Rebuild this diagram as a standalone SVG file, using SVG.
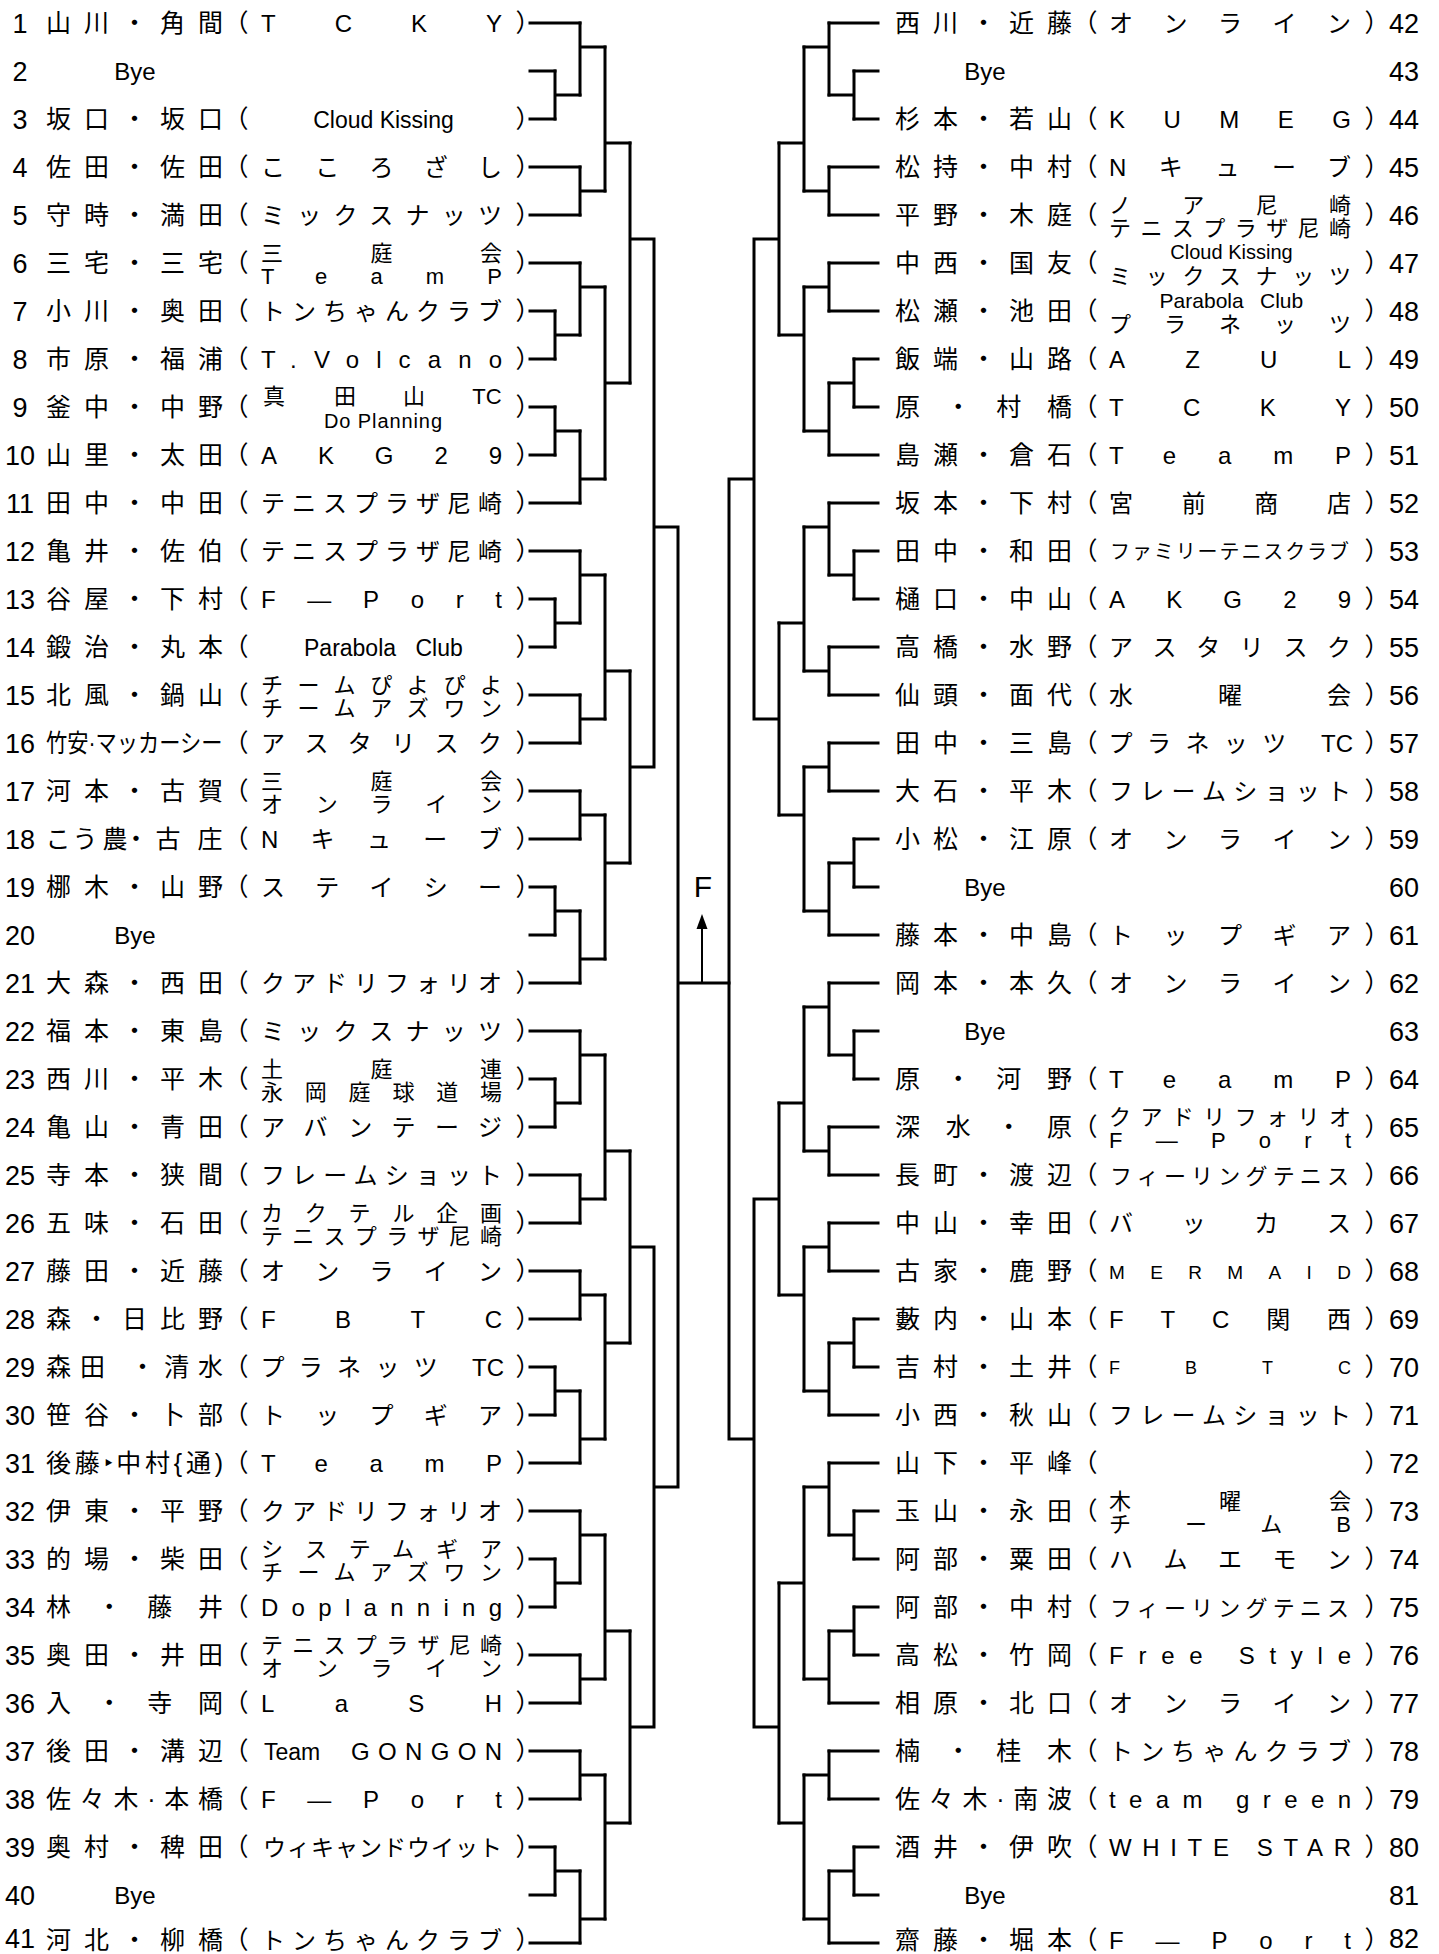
<svg xmlns="http://www.w3.org/2000/svg" width="1439" height="1954" viewBox="0 0 1439 1954">
<style>
text{font-family:"Liberation Sans","Noto Sans CJK JP",sans-serif;fill:#000}
.num{font-family:"Liberation Sans Narrow","Liberation Sans",sans-serif;font-size:27px;text-anchor:middle}
.nm{font-size:25px}
.nmx{font-size:25px;text-anchor:middle}
.pr{font-size:25px;text-anchor:middle}
.og{font-size:24px}
.ogx{font-size:24px;text-anchor:middle}
.o2{font-size:22px}
.mid{text-anchor:middle}
.bye{font-size:24px;text-anchor:middle}
.ln{fill:none;stroke:#000;stroke-width:3;stroke-linecap:square}
</style>
<rect width="1439" height="1954" fill="#fff"/>
<g id="connectors">
<path class="ln" d="M530 23H580M530 71H555M530 119H555M530 167H580M530 215H580M530 263H580M530 311H555M530 359H555M530 407H555M530 455H555M530 503H580M530 551H580M530 599H555M530 647H555M530 695H580M530 743H580M530 791H580M530 839H580M530 887H555M530 935H555M530 983H580M530 1031H580M530 1079H555M530 1127H555M530 1175H580M530 1223H580M530 1271H580M530 1319H580M530 1367H555M530 1415H555M530 1463H580M530 1511H580M530 1559H555M530 1607H555M530 1655H580M530 1703H580M530 1751H580M530 1799H580M530 1847H555M530 1895H555M530 1943H580"/>
<path class="ln" d="M555 71V119M555 95H580M555 311V359M555 335H580M555 407V455M555 431H580M555 599V647M555 623H580M555 887V935M555 911H580M555 1079V1127M555 1103H580M555 1367V1415M555 1391H580M555 1559V1607M555 1583H580M555 1847V1895M555 1871H580"/>
<path class="ln" d="M580 23V95M580 47H605M580 167V215M580 191H605M580 263V335M580 287H605M580 431V503M580 479H605M580 551V623M580 575H605M580 695V743M580 719H605M580 791V839M580 815H605M580 911V983M580 959H605M580 1031V1103M580 1055H605M580 1175V1223M580 1199H605M580 1271V1319M580 1295H605M580 1391V1463M580 1439H605M580 1511V1583M580 1535H605M580 1655V1703M580 1679H605M580 1751V1799M580 1775H605M580 1871V1943M580 1919H605"/>
<path class="ln" d="M605 47V191M605 143H630M605 287V479M605 383H630M605 575V719M605 671H630M605 815V959M605 863H630M605 1055V1199M605 1151H630M605 1295V1439M605 1343H630M605 1535V1679M605 1631H630M605 1775V1919M605 1823H630"/>
<path class="ln" d="M630 143V383M630 239H654M630 671V863M630 767H654M630 1151V1343M630 1247H654M630 1631V1823M630 1727H654M654 239V767M654 527H678M654 1247V1727M654 1487H678M678 527V1487M678 983H729"/>
<path class="ln" d="M878 23H829M878 71H854M878 119H854M878 167H829M878 215H829M878 263H829M878 311H829M878 359H854M878 407H854M878 455H829M878 503H829M878 551H854M878 599H854M878 647H829M878 695H829M878 743H829M878 791H829M878 839H854M878 887H854M878 935H829M878 983H829M878 1031H854M878 1079H854M878 1127H829M878 1175H829M878 1223H829M878 1271H829M878 1319H854M878 1367H854M878 1415H829M878 1463H829M878 1511H854M878 1559H854M878 1607H854M878 1655H854M878 1703H829M878 1751H829M878 1799H829M878 1847H854M878 1895H854M878 1943H829"/>
<path class="ln" d="M854 71V119M854 95H829M854 359V407M854 383H829M854 551V599M854 575H829M854 839V887M854 863H829M854 1031V1079M854 1055H829M854 1319V1367M854 1343H829M854 1511V1559M854 1535H829M854 1607V1655M854 1631H829M854 1847V1895M854 1871H829"/>
<path class="ln" d="M829 23V95M829 47H804M829 167V215M829 191H804M829 263V311M829 287H804M829 383V455M829 431H804M829 503V575M829 527H804M829 647V695M829 671H804M829 743V791M829 767H804M829 863V935M829 911H804M829 983V1055M829 1007H804M829 1127V1175M829 1151H804M829 1223V1271M829 1247H804M829 1343V1415M829 1391H804M829 1463V1535M829 1487H804M829 1631V1703M829 1679H804M829 1751V1799M829 1775H804M829 1871V1943M829 1919H804"/>
<path class="ln" d="M804 47V191M804 143H779M804 287V431M804 335H779M804 527V671M804 623H779M804 767V911M804 815H779M804 1007V1151M804 1103H779M804 1247V1391M804 1295H779M804 1487V1679M804 1583H779M804 1775V1919M804 1823H779"/>
<path class="ln" d="M779 143V335M779 239H754M779 623V815M779 719H754M779 1103V1295M779 1199H754M779 1583V1823M779 1727H754M754 239V719M754 479H729M754 1199V1727M754 1439H729M729 479V1439"/>
<path d="M702 982V927" fill="none" stroke="#000" stroke-width="2"/>
<polygon points="702,914 696.5,929 707.5,929" fill="#000"/>
</g>
<g id="final"><text x="703" y="897" style="font-size:30px;text-anchor:middle">F</text></g>

<g id="p1" transform="translate(0,23)"><text class="num" x="20" y="9.5">1</text><text class="nm" x="46" y="9" textLength="177">山川・角間</text><text class="pr" x="236" y="9">（</text><text class="pr" x="528" y="9">）</text><text class="og" x="261" y="9" textLength="241">TCKY</text></g>
<g id="p2" transform="translate(0,71)"><text class="num" x="20" y="9.5">2</text><text class="bye" x="135" y="9">Bye</text></g>
<g id="p3" transform="translate(0,119)"><text class="num" x="20" y="9.5">3</text><text class="nm" x="46" y="9" textLength="177">坂口・坂口</text><text class="pr" x="236" y="9">（</text><text class="pr" x="528" y="9">）</text><text class="ogx" x="383.5" y="9" style="font-size:23px">Cloud Kissing</text></g>
<g id="p4" transform="translate(0,167)"><text class="num" x="20" y="9.5">4</text><text class="nm" x="46" y="9" textLength="177">佐田・佐田</text><text class="pr" x="236" y="9">（</text><text class="pr" x="528" y="9">）</text><text class="og" x="261" y="9" textLength="241">こころざし</text></g>
<g id="p5" transform="translate(0,215)"><text class="num" x="20" y="9.5">5</text><text class="nm" x="46" y="9" textLength="177">守時・満田</text><text class="pr" x="236" y="9">（</text><text class="pr" x="528" y="9">）</text><text class="og" x="261" y="9" textLength="241">ミックスナッツ</text></g>
<g id="p6" transform="translate(0,263)"><text class="num" x="20" y="9.5">6</text><text class="nm" x="46" y="9" textLength="177">三宅・三宅</text><text class="pr" x="236" y="9">（</text><text class="pr" x="528" y="9">）</text><text class="o2"><tspan x="261" y="-2" textLength="241">三庭会</tspan><tspan x="261" y="21" textLength="241">TeamP</tspan></text></g>
<g id="p7" transform="translate(0,311)"><text class="num" x="20" y="9.5">7</text><text class="nm" x="46" y="9" textLength="177">小川・奥田</text><text class="pr" x="236" y="9">（</text><text class="pr" x="528" y="9">）</text><text class="og" x="261" y="9" textLength="241">トンちゃんクラブ</text></g>
<g id="p8" transform="translate(0,359)"><text class="num" x="20" y="9.5">8</text><text class="nm" x="46" y="9" textLength="177">市原・福浦</text><text class="pr" x="236" y="9">（</text><text class="pr" x="528" y="9">）</text><text class="og" x="261" y="9" textLength="241">T.Volcano</text></g>
<g id="p9" transform="translate(0,407)"><text class="num" x="20" y="9.5">9</text><text class="nm" x="46" y="9" textLength="177">釜中・中野</text><text class="pr" x="236" y="9">（</text><text class="pr" x="528" y="9">）</text><text class="o2"><tspan class="mid" x="274 345 414 487" y="-3">真田山TC</tspan><tspan x="324" y="21" textLength="118" style="font-size:20px">Do Planning</tspan></text></g>
<g id="p10" transform="translate(0,455)"><text class="num" x="20" y="9.5">10</text><text class="nm" x="46" y="9" textLength="177">山里・太田</text><text class="pr" x="236" y="9">（</text><text class="pr" x="528" y="9">）</text><text class="og" x="261" y="9" textLength="241">AKG29</text></g>
<g id="p11" transform="translate(0,503)"><text class="num" x="20" y="9.5">11</text><text class="nm" x="46" y="9" textLength="177">田中・中田</text><text class="pr" x="236" y="9">（</text><text class="pr" x="528" y="9">）</text><text class="og" x="261" y="9" textLength="241">テニスプラザ尼崎</text></g>
<g id="p12" transform="translate(0,551)"><text class="num" x="20" y="9.5">12</text><text class="nm" x="46" y="9" textLength="177">亀井・佐伯</text><text class="pr" x="236" y="9">（</text><text class="pr" x="528" y="9">）</text><text class="og" x="261" y="9" textLength="241">テニスプラザ尼崎</text></g>
<g id="p13" transform="translate(0,599)"><text class="num" x="20" y="9.5">13</text><text class="nm" x="46" y="9" textLength="177">谷屋・下村</text><text class="pr" x="236" y="9">（</text><text class="pr" x="528" y="9">）</text><text class="og" x="261" y="9" textLength="241">F—Port</text></g>
<g id="p14" transform="translate(0,647)"><text class="num" x="20" y="9.5">14</text><text class="nm" x="46" y="9" textLength="177">鍛治・丸本</text><text class="pr" x="236" y="9">（</text><text class="pr" x="528" y="9">）</text><text class="og" y="9" style="font-size:23px"><tspan x="304">Parabola</tspan><tspan x="415.5">Club</tspan></text></g>
<g id="p15" transform="translate(0,695)"><text class="num" x="20" y="9.5">15</text><text class="nm" x="46" y="9" textLength="177">北風・鍋山</text><text class="pr" x="236" y="9">（</text><text class="pr" x="528" y="9">）</text><text class="o2"><tspan x="261" y="-2" textLength="241">チームぴよぴよ</tspan><tspan x="261" y="21" textLength="241">チームアズワン</tspan></text></g>
<g id="p16" transform="translate(0,743)"><text class="num" x="20" y="9.5">16</text><text class="nm" transform="translate(46 9) scale(0.85 1)">竹安·マッカーシー</text><text class="pr" x="236" y="9">（</text><text class="pr" x="528" y="9">）</text><text class="og" x="261" y="9" textLength="241">アスタリスク</text></g>
<g id="p17" transform="translate(0,791)"><text class="num" x="20" y="9.5">17</text><text class="nm" x="46" y="9" textLength="177">河本・古賀</text><text class="pr" x="236" y="9">（</text><text class="pr" x="528" y="9">）</text><text class="o2"><tspan x="261" y="-2" textLength="241">三庭会</tspan><tspan x="261" y="21" textLength="241">オンライン</tspan></text></g>
<g id="p18" transform="translate(0,839)"><text class="num" x="20" y="9.5">18</text><text class="nmx" x="58 85 115 136 168 210" y="9">こう農・古庄</text><text class="pr" x="236" y="9">（</text><text class="pr" x="528" y="9">）</text><text class="og" x="261" y="9" textLength="241">Nキューブ</text></g>
<g id="p19" transform="translate(0,887)"><text class="num" x="20" y="9.5">19</text><text class="nm" x="46" y="9" textLength="177">梛木・山野</text><text class="pr" x="236" y="9">（</text><text class="pr" x="528" y="9">）</text><text class="og" x="261" y="9" textLength="241">ステイシー</text></g>
<g id="p20" transform="translate(0,935)"><text class="num" x="20" y="9.5">20</text><text class="bye" x="135" y="9">Bye</text></g>
<g id="p21" transform="translate(0,983)"><text class="num" x="20" y="9.5">21</text><text class="nm" x="46" y="9" textLength="177">大森・西田</text><text class="pr" x="236" y="9">（</text><text class="pr" x="528" y="9">）</text><text class="og" x="261" y="9" textLength="241">クアドリフォリオ</text></g>
<g id="p22" transform="translate(0,1031)"><text class="num" x="20" y="9.5">22</text><text class="nm" x="46" y="9" textLength="177">福本・東島</text><text class="pr" x="236" y="9">（</text><text class="pr" x="528" y="9">）</text><text class="og" x="261" y="9" textLength="241">ミックスナッツ</text></g>
<g id="p23" transform="translate(0,1079)"><text class="num" x="20" y="9.5">23</text><text class="nm" x="46" y="9" textLength="177">西川・平木</text><text class="pr" x="236" y="9">（</text><text class="pr" x="528" y="9">）</text><text class="o2"><tspan x="261" y="-2" textLength="241">土庭連</tspan><tspan x="261" y="21" textLength="241">永岡庭球道場</tspan></text></g>
<g id="p24" transform="translate(0,1127)"><text class="num" x="20" y="9.5">24</text><text class="nm" x="46" y="9" textLength="177">亀山・青田</text><text class="pr" x="236" y="9">（</text><text class="pr" x="528" y="9">）</text><text class="og" x="261" y="9" textLength="241">アバンテージ</text></g>
<g id="p25" transform="translate(0,1175)"><text class="num" x="20" y="9.5">25</text><text class="nm" x="46" y="9" textLength="177">寺本・狭間</text><text class="pr" x="236" y="9">（</text><text class="pr" x="528" y="9">）</text><text class="og" x="261" y="9" textLength="241">フレームショット</text></g>
<g id="p26" transform="translate(0,1223)"><text class="num" x="20" y="9.5">26</text><text class="nm" x="46" y="9" textLength="177">五味・石田</text><text class="pr" x="236" y="9">（</text><text class="pr" x="528" y="9">）</text><text class="o2"><tspan x="261" y="-2" textLength="241">カクテル企画</tspan><tspan x="261" y="21" textLength="241">テニスプラザ尼崎</tspan></text></g>
<g id="p27" transform="translate(0,1271)"><text class="num" x="20" y="9.5">27</text><text class="nm" x="46" y="9" textLength="177">藤田・近藤</text><text class="pr" x="236" y="9">（</text><text class="pr" x="528" y="9">）</text><text class="og" x="261" y="9" textLength="241">オンライン</text></g>
<g id="p28" transform="translate(0,1319)"><text class="num" x="20" y="9.5">28</text><text class="nm" x="46" y="9" textLength="177">森・日比野</text><text class="pr" x="236" y="9">（</text><text class="pr" x="528" y="9">）</text><text class="og" x="261" y="9" textLength="241">FBTC</text></g>
<g id="p29" transform="translate(0,1367)"><text class="num" x="20" y="9.5">29</text><text class="nm" x="46" y="9" textLength="177">森田 ・清水</text><text class="pr" x="236" y="9">（</text><text class="pr" x="528" y="9">）</text><text class="ogx" x="272.5 310.8 349.1 387.4 425.7 488" y="9">プラネッツTC</text></g>
<g id="p30" transform="translate(0,1415)"><text class="num" x="20" y="9.5">30</text><text class="nm" x="46" y="9" textLength="177">笹谷・卜部</text><text class="pr" x="236" y="9">（</text><text class="pr" x="528" y="9">）</text><text class="og" x="261" y="9" textLength="241">トップギア</text></g>
<g id="p31" transform="translate(0,1463)"><text class="num" x="20" y="9.5">31</text><text class="nm" x="46" y="9" textLength="177">後藤‣中村{通)</text><text class="pr" x="236" y="9">（</text><text class="pr" x="528" y="9">）</text><text class="og" x="261" y="9" textLength="241">TeamP</text></g>
<g id="p32" transform="translate(0,1511)"><text class="num" x="20" y="9.5">32</text><text class="nm" x="46" y="9" textLength="177">伊東・平野</text><text class="pr" x="236" y="9">（</text><text class="pr" x="528" y="9">）</text><text class="og" x="261" y="9" textLength="241">クアドリフォリオ</text></g>
<g id="p33" transform="translate(0,1559)"><text class="num" x="20" y="9.5">33</text><text class="nm" x="46" y="9" textLength="177">的場・柴田</text><text class="pr" x="236" y="9">（</text><text class="pr" x="528" y="9">）</text><text class="o2"><tspan x="261" y="-2" textLength="241">システムギア</tspan><tspan x="261" y="21" textLength="241">チームアズワン</tspan></text></g>
<g id="p34" transform="translate(0,1607)"><text class="num" x="20" y="9.5">34</text><text class="nm" x="46" y="9" textLength="177">林・藤井</text><text class="pr" x="236" y="9">（</text><text class="pr" x="528" y="9">）</text><text class="og" x="261" y="9" textLength="241">Doplanning</text></g>
<g id="p35" transform="translate(0,1655)"><text class="num" x="20" y="9.5">35</text><text class="nm" x="46" y="9" textLength="177">奥田・井田</text><text class="pr" x="236" y="9">（</text><text class="pr" x="528" y="9">）</text><text class="o2"><tspan x="261" y="-2" textLength="241">テニスプラザ尼崎</tspan><tspan x="261" y="21" textLength="241">オンライン</tspan></text></g>
<g id="p36" transform="translate(0,1703)"><text class="num" x="20" y="9.5">36</text><text class="nm" x="46" y="9" textLength="177">入・寺岡</text><text class="pr" x="236" y="9">（</text><text class="pr" x="528" y="9">）</text><text class="og" x="261" y="9" textLength="241">LaSH</text></g>
<g id="p37" transform="translate(0,1751)"><text class="num" x="20" y="9.5">37</text><text class="nm" x="46" y="9" textLength="177">後田・溝辺</text><text class="pr" x="236" y="9">（</text><text class="pr" x="528" y="9">）</text><text class="og" y="9"><tspan x="264" style="font-size:23px">Team</tspan><tspan x="351" textLength="151">GONGON</tspan></text></g>
<g id="p38" transform="translate(0,1799)"><text class="num" x="20" y="9.5">38</text><text class="nm" x="46" y="9" textLength="177">佐々木·本橋</text><text class="pr" x="236" y="9">（</text><text class="pr" x="528" y="9">）</text><text class="og" x="261" y="9" textLength="241">F—Port</text></g>
<g id="p39" transform="translate(0,1847)"><text class="num" x="20" y="9.5">39</text><text class="nm" x="46" y="9" textLength="177">奥村・稗田</text><text class="pr" x="236" y="9">（</text><text class="pr" x="528" y="9">）</text><text class="og" x="263" y="9" textLength="239" style="font-size:23px">ウィキャンドウイット</text></g>
<g id="p40" transform="translate(0,1895)"><text class="num" x="20" y="9.5">40</text><text class="bye" x="135" y="9">Bye</text></g>
<g id="p41" transform="translate(0,1940)"><text class="num" x="20" y="8">41</text><text class="nm" x="46" y="8.5" textLength="177">河北・柳橋</text><text class="pr" x="236" y="8.5">（</text><text class="pr" x="528" y="8.5">）</text><text class="og" x="261" y="8.5" textLength="241">トンちゃんクラブ</text></g>

<g id="p42" transform="translate(0,23)"><text class="nm" x="895" y="9" textLength="177">西川・近藤</text><text class="pr" x="1085" y="9">（</text><text class="pr" x="1377" y="9">）</text><text class="og" x="1109" y="9" textLength="242">オンライン</text><text class="num" x="1404" y="9.5">42</text></g>
<g id="p43" transform="translate(0,71)"><text class="bye" x="985" y="9">Bye</text><text class="num" x="1404" y="9.5">43</text></g>
<g id="p44" transform="translate(0,119)"><text class="nm" x="895" y="9" textLength="177">杉本・若山</text><text class="pr" x="1085" y="9">（</text><text class="pr" x="1377" y="9">）</text><text class="og" x="1109" y="9" textLength="242">KUMEG</text><text class="num" x="1404" y="9.5">44</text></g>
<g id="p45" transform="translate(0,167)"><text class="nm" x="895" y="9" textLength="177">松持・中村</text><text class="pr" x="1085" y="9">（</text><text class="pr" x="1377" y="9">）</text><text class="og" x="1109" y="9" textLength="242">Nキューブ</text><text class="num" x="1404" y="9.5">45</text></g>
<g id="p46" transform="translate(0,215)"><text class="nm" x="895" y="9" textLength="177">平野・木庭</text><text class="pr" x="1085" y="9">（</text><text class="pr" x="1377" y="9">）</text><text class="o2"><tspan x="1109" y="-2" textLength="242">ノア尼崎</tspan><tspan x="1109" y="21" textLength="242">テニスプラザ尼崎</tspan></text><text class="num" x="1404" y="9.5">46</text></g>
<g id="p47" transform="translate(0,263)"><text class="nm" x="895" y="9" textLength="177">中西・国友</text><text class="pr" x="1085" y="9">（</text><text class="pr" x="1377" y="9">）</text><text class="o2"><tspan class="mid" x="1231.5" y="-4" style="font-size:20px">Cloud Kissing</tspan><tspan x="1109" y="21" textLength="242">ミックスナッツ</tspan></text><text class="num" x="1404" y="9.5">47</text></g>
<g id="p48" transform="translate(0,311)"><text class="nm" x="895" y="9" textLength="177">松瀬・池田</text><text class="pr" x="1085" y="9">（</text><text class="pr" x="1377" y="9">）</text><text class="o2"><tspan x="1159.6" y="-3" style="font-size:21px">Parabola</tspan><tspan x="1260" y="-3" style="font-size:21px">Club</tspan><tspan x="1109" y="21" textLength="242">プラネッツ</tspan></text><text class="num" x="1404" y="9.5">48</text></g>
<g id="p49" transform="translate(0,359)"><text class="nm" x="895" y="9" textLength="177">飯端・山路</text><text class="pr" x="1085" y="9">（</text><text class="pr" x="1377" y="9">）</text><text class="og" x="1109" y="9" textLength="242">AZUL</text><text class="num" x="1404" y="9.5">49</text></g>
<g id="p50" transform="translate(0,407)"><text class="nm" x="895" y="9" textLength="177">原・村橋</text><text class="pr" x="1085" y="9">（</text><text class="pr" x="1377" y="9">）</text><text class="og" x="1109" y="9" textLength="242">TCKY</text><text class="num" x="1404" y="9.5">50</text></g>
<g id="p51" transform="translate(0,455)"><text class="nm" x="895" y="9" textLength="177">島瀬・倉石</text><text class="pr" x="1085" y="9">（</text><text class="pr" x="1377" y="9">）</text><text class="og" x="1109" y="9" textLength="242">TeamP</text><text class="num" x="1404" y="9.5">51</text></g>
<g id="p52" transform="translate(0,503)"><text class="nm" x="895" y="9" textLength="177">坂本・下村</text><text class="pr" x="1085" y="9">（</text><text class="pr" x="1377" y="9">）</text><text class="og" x="1109" y="9" textLength="242">宮前商店</text><text class="num" x="1404" y="9.5">52</text></g>
<g id="p53" transform="translate(0,551)"><text class="nm" x="895" y="9" textLength="177">田中・和田</text><text class="pr" x="1085" y="9">（</text><text class="pr" x="1377" y="9">）</text><text class="og" x="1110" y="8" textLength="239" style="font-size:20px">ファミリーテニスクラブ</text><text class="num" x="1404" y="9.5">53</text></g>
<g id="p54" transform="translate(0,599)"><text class="nm" x="895" y="9" textLength="177">樋口・中山</text><text class="pr" x="1085" y="9">（</text><text class="pr" x="1377" y="9">）</text><text class="og" x="1109" y="9" textLength="242">AKG29</text><text class="num" x="1404" y="9.5">54</text></g>
<g id="p55" transform="translate(0,647)"><text class="nm" x="895" y="9" textLength="177">高橋・水野</text><text class="pr" x="1085" y="9">（</text><text class="pr" x="1377" y="9">）</text><text class="og" x="1109" y="9" textLength="242">アスタリスク</text><text class="num" x="1404" y="9.5">55</text></g>
<g id="p56" transform="translate(0,695)"><text class="nm" x="895" y="9" textLength="177">仙頭・面代</text><text class="pr" x="1085" y="9">（</text><text class="pr" x="1377" y="9">）</text><text class="og" x="1109" y="9" textLength="242">水曜会</text><text class="num" x="1404" y="9.5">56</text></g>
<g id="p57" transform="translate(0,743)"><text class="nm" x="895" y="9" textLength="177">田中・三島</text><text class="pr" x="1085" y="9">（</text><text class="pr" x="1377" y="9">）</text><text class="ogx" x="1120.5 1158.9 1197.4 1235.8 1274.2 1337" y="9">プラネッツTC</text><text class="num" x="1404" y="9.5">57</text></g>
<g id="p58" transform="translate(0,791)"><text class="nm" x="895" y="9" textLength="177">大石・平木</text><text class="pr" x="1085" y="9">（</text><text class="pr" x="1377" y="9">）</text><text class="og" x="1109" y="9" textLength="242">フレームショット</text><text class="num" x="1404" y="9.5">58</text></g>
<g id="p59" transform="translate(0,839)"><text class="nm" x="895" y="9" textLength="177">小松・江原</text><text class="pr" x="1085" y="9">（</text><text class="pr" x="1377" y="9">）</text><text class="og" x="1109" y="9" textLength="242">オンライン</text><text class="num" x="1404" y="9.5">59</text></g>
<g id="p60" transform="translate(0,887)"><text class="bye" x="985" y="9">Bye</text><text class="num" x="1404" y="9.5">60</text></g>
<g id="p61" transform="translate(0,935)"><text class="nm" x="895" y="9" textLength="177">藤本・中島</text><text class="pr" x="1085" y="9">（</text><text class="pr" x="1377" y="9">）</text><text class="og" x="1109" y="9" textLength="242">トップギア</text><text class="num" x="1404" y="9.5">61</text></g>
<g id="p62" transform="translate(0,983)"><text class="nm" x="895" y="9" textLength="177">岡本・本久</text><text class="pr" x="1085" y="9">（</text><text class="pr" x="1377" y="9">）</text><text class="og" x="1109" y="9" textLength="242">オンライン</text><text class="num" x="1404" y="9.5">62</text></g>
<g id="p63" transform="translate(0,1031)"><text class="bye" x="985" y="9">Bye</text><text class="num" x="1404" y="9.5">63</text></g>
<g id="p64" transform="translate(0,1079)"><text class="nm" x="895" y="9" textLength="177">原・河野</text><text class="pr" x="1085" y="9">（</text><text class="pr" x="1377" y="9">）</text><text class="og" x="1109" y="9" textLength="242">TeamP</text><text class="num" x="1404" y="9.5">64</text></g>
<g id="p65" transform="translate(0,1127)"><text class="nm" x="895" y="9" textLength="177">深水・原</text><text class="pr" x="1085" y="9">（</text><text class="pr" x="1377" y="9">）</text><text class="o2"><tspan x="1109" y="-2" textLength="242">クアドリフォリオ</tspan><tspan x="1109" y="21" textLength="242">F—Port</tspan></text><text class="num" x="1404" y="9.5">65</text></g>
<g id="p66" transform="translate(0,1175)"><text class="nm" x="895" y="9" textLength="177">長町・渡辺</text><text class="pr" x="1085" y="9">（</text><text class="pr" x="1377" y="9">）</text><text class="og" x="1110" y="9" textLength="239" style="font-size:22px">フィーリングテニス</text><text class="num" x="1404" y="9.5">66</text></g>
<g id="p67" transform="translate(0,1223)"><text class="nm" x="895" y="9" textLength="177">中山・幸田</text><text class="pr" x="1085" y="9">（</text><text class="pr" x="1377" y="9">）</text><text class="og" x="1109" y="9" textLength="242">バッカス</text><text class="num" x="1404" y="9.5">67</text></g>
<g id="p68" transform="translate(0,1271)"><text class="nm" x="895" y="9" textLength="177">古家・鹿野</text><text class="pr" x="1085" y="9">（</text><text class="pr" x="1377" y="9">）</text><text class="og" x="1109" y="8" textLength="242" style="font-size:19px">MERMAID</text><text class="num" x="1404" y="9.5">68</text></g>
<g id="p69" transform="translate(0,1319)"><text class="nm" x="895" y="9" textLength="177">藪内・山本</text><text class="pr" x="1085" y="9">（</text><text class="pr" x="1377" y="9">）</text><text class="og" x="1109" y="9" textLength="242">FTC関西</text><text class="num" x="1404" y="9.5">69</text></g>
<g id="p70" transform="translate(0,1367)"><text class="nm" x="895" y="9" textLength="177">吉村・土井</text><text class="pr" x="1085" y="9">（</text><text class="pr" x="1377" y="9">）</text><text class="og" x="1109" y="7" textLength="242" style="font-size:18px">FBTC</text><text class="num" x="1404" y="9.5">70</text></g>
<g id="p71" transform="translate(0,1415)"><text class="nm" x="895" y="9" textLength="177">小西・秋山</text><text class="pr" x="1085" y="9">（</text><text class="pr" x="1377" y="9">）</text><text class="og" x="1109" y="9" textLength="242">フレームショット</text><text class="num" x="1404" y="9.5">71</text></g>
<g id="p72" transform="translate(0,1463)"><text class="nm" x="895" y="9" textLength="177">山下・平峰</text><text class="pr" x="1085" y="9">（</text><text class="pr" x="1377" y="9">）</text><text class="num" x="1404" y="9.5">72</text></g>
<g id="p73" transform="translate(0,1511)"><text class="nm" x="895" y="9" textLength="177">玉山・永田</text><text class="pr" x="1085" y="9">（</text><text class="pr" x="1377" y="9">）</text><text class="o2"><tspan x="1109" y="-2" textLength="242">木曜会</tspan><tspan x="1109" y="21" textLength="242">チームB</tspan></text><text class="num" x="1404" y="9.5">73</text></g>
<g id="p74" transform="translate(0,1559)"><text class="nm" x="895" y="9" textLength="177">阿部・粟田</text><text class="pr" x="1085" y="9">（</text><text class="pr" x="1377" y="9">）</text><text class="og" x="1109" y="9" textLength="242">ハムエモン</text><text class="num" x="1404" y="9.5">74</text></g>
<g id="p75" transform="translate(0,1607)"><text class="nm" x="895" y="9" textLength="177">阿部・中村</text><text class="pr" x="1085" y="9">（</text><text class="pr" x="1377" y="9">）</text><text class="og" x="1110" y="9" textLength="239" style="font-size:22px">フィーリングテニス</text><text class="num" x="1404" y="9.5">75</text></g>
<g id="p76" transform="translate(0,1655)"><text class="nm" x="895" y="9" textLength="177">高松・竹岡</text><text class="pr" x="1085" y="9">（</text><text class="pr" x="1377" y="9">）</text><text class="og" x="1109" y="9" textLength="242">Free Style</text><text class="num" x="1404" y="9.5">76</text></g>
<g id="p77" transform="translate(0,1703)"><text class="nm" x="895" y="9" textLength="177">相原・北口</text><text class="pr" x="1085" y="9">（</text><text class="pr" x="1377" y="9">）</text><text class="og" x="1109" y="9" textLength="242">オンライン</text><text class="num" x="1404" y="9.5">77</text></g>
<g id="p78" transform="translate(0,1751)"><text class="nm" x="895" y="9" textLength="177">楠・桂木</text><text class="pr" x="1085" y="9">（</text><text class="pr" x="1377" y="9">）</text><text class="og" x="1109" y="9" textLength="242">トンちゃんクラブ</text><text class="num" x="1404" y="9.5">78</text></g>
<g id="p79" transform="translate(0,1799)"><text class="nm" x="895" y="9" textLength="177">佐々木·南波</text><text class="pr" x="1085" y="9">（</text><text class="pr" x="1377" y="9">）</text><text class="og" x="1109" y="9" textLength="242">team green</text><text class="num" x="1404" y="9.5">79</text></g>
<g id="p80" transform="translate(0,1847)"><text class="nm" x="895" y="9" textLength="177">酒井・伊吹</text><text class="pr" x="1085" y="9">（</text><text class="pr" x="1377" y="9">）</text><text class="og" x="1109" y="9" textLength="242">WHITE STAR</text><text class="num" x="1404" y="9.5">80</text></g>
<g id="p81" transform="translate(0,1895)"><text class="bye" x="985" y="9">Bye</text><text class="num" x="1404" y="9.5">81</text></g>
<g id="p82" transform="translate(0,1940)"><text class="nm" x="895" y="8.5" textLength="177">齋藤・堀本</text><text class="pr" x="1085" y="8.5">（</text><text class="pr" x="1377" y="8.5">）</text><text class="og" x="1109" y="8.5" textLength="242">F—Port</text><text class="num" x="1404" y="8">82</text></g>
</svg>
